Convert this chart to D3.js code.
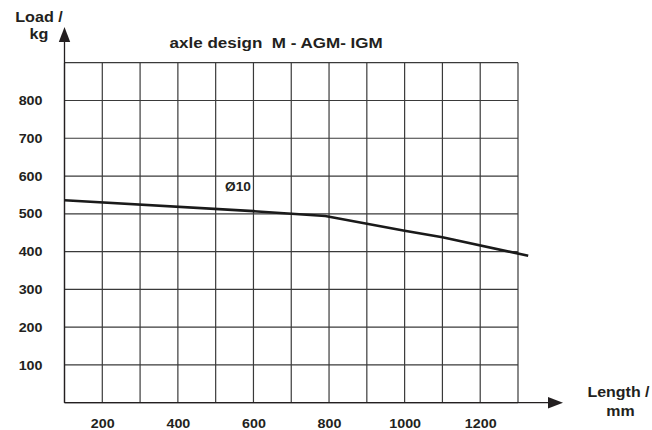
<!DOCTYPE html>
<html>
<head>
<meta charset="utf-8">
<script src="https://cdn.jsdelivr.net/npm/d3@7"></script>
<style>
html,body{margin:0;padding:0;background:#fff;}
svg{display:block;}
text{font-family:"Liberation Sans",Arial,Helvetica,sans-serif;font-weight:bold;fill:#231f20;}
</style>
</head>
<body>
<svg id="chart" width="652" height="430"></svg>
<script>
// Data
const lengths = [100, 600, 790, 1000, 1100, 1327];
const loads   = [536, 507, 494, 455, 438, 389];
const seriesLabel = "Ø10";
const xTickLabels = [200, 400, 600, 800, 1000, 1200];
const yTickLabels = [100, 200, 300, 400, 500, 600, 700, 800];
const xGrid = [100, 200, 300, 400, 500, 600, 700, 800, 900, 1000, 1100, 1200, 1300];
const yGrid = [0, 100, 200, 300, 400, 500, 600, 700, 800, 900];
const title = "axle design  M - AGM- IGM";

const SX = 1.1; // horizontal text stretch seen in the reference
function stretch(sel) {
  sel.attr("transform", function () {
    const tx = +d3.select(this).attr("x") || 0;
    return `translate(${tx},0) scale(${SX},1) translate(${-tx},0)`;
  });
}

const svg = d3.select("#chart");
const x = d3.scaleLinear().domain([100, 1300]).range([64.5, 518]);
const y = d3.scaleLinear().domain([0, 900]).range([402.7, 62.7]);

// grid
const g = svg.append("g").attr("stroke", "#3a3a3a").attr("stroke-width", 1.2);
g.selectAll("line.v").data(xGrid).join("line")
  .attr("x1", d => x(d)).attr("x2", d => x(d))
  .attr("y1", y(0)).attr("y2", y(900));
g.selectAll("line.h").data(yGrid).join("line")
  .attr("x1", x(100)).attr("x2", x(1300))
  .attr("y1", d => y(d)).attr("y2", d => y(d));

// axes lines + arrows
svg.append("line").attr("x1", x(100)).attr("x2", x(100)).attr("y1", y(0)).attr("y2", 40)
  .attr("stroke", "#231f20").attr("stroke-width", 1.3);
svg.append("path").attr("d", `M${x(100)},27 L${x(100)-5.7},42 L${x(100)+5.7},42 Z`).attr("fill", "#231f20");
svg.append("line").attr("x1", x(100)).attr("x2", 550).attr("y1", y(0)).attr("y2", y(0))
  .attr("stroke", "#231f20").attr("stroke-width", 1.3);
svg.append("path").attr("d", `M563,${y(0)} L548,${y(0)-5.7} L548,${y(0)+5.7} Z`).attr("fill", "#231f20");

// tick labels via axes
const ax = svg.append("g").attr("transform", `translate(0,${y(0)})`)
  .call(d3.axisBottom(x).tickValues(xTickLabels).tickFormat(d3.format("d")).tickSize(0).tickPadding(16.4));
ax.select(".domain").remove();
ax.selectAll("text").attr("font-size", 13).attr("font-family", null)
  .style("font-family", '"Liberation Sans",Arial,sans-serif').style("font-weight", "bold").attr("fill", "#231f20")
  .call(stretch);

const ay = svg.append("g").attr("transform", `translate(${x(100)},0)`)
  .call(d3.axisLeft(y).tickValues(yTickLabels).tickFormat(d3.format("d")).tickSize(0).tickPadding(22));
ay.select(".domain").remove();
ay.selectAll("text").attr("font-size", 13).attr("font-family", null)
  .style("font-family", '"Liberation Sans",Arial,sans-serif').style("font-weight", "bold").attr("fill", "#231f20")
  .call(stretch);

// data line
svg.append("path")
  .datum(lengths.map((l, i) => [l, loads[i]]))
  .attr("fill", "none").attr("stroke", "#1a1a1a").attr("stroke-width", 2.6)
  .attr("d", d3.line().x(d => x(d[0])).y(d => y(d[1])));

svg.append("text").attr("x", 225).attr("y", 191.5).attr("font-size", 12.5).text(seriesLabel).call(stretch);

// title and axis titles
svg.append("text").attr("x", 169.5).attr("y", 48).attr("font-size", 15.5)
  .style("white-space", "pre").attr("xml:space", "preserve").text(title).call(stretch);
svg.append("text").attr("x", 39).attr("y", 22.5).attr("text-anchor", "middle").attr("font-size", 14.7).text("Load /").call(stretch);
svg.append("text").attr("x", 39).attr("y", 39.5).attr("text-anchor", "middle").attr("font-size", 14.7).text("kg").call(stretch);
svg.append("text").attr("x", 618.5).attr("y", 397).attr("text-anchor", "middle").attr("font-size", 14.5).text("Length /").call(stretch);
svg.append("text").attr("x", 620.5).attr("y", 416).attr("text-anchor", "middle").attr("font-size", 14.5).text("mm").call(stretch);
</script>
</body>
</html>
